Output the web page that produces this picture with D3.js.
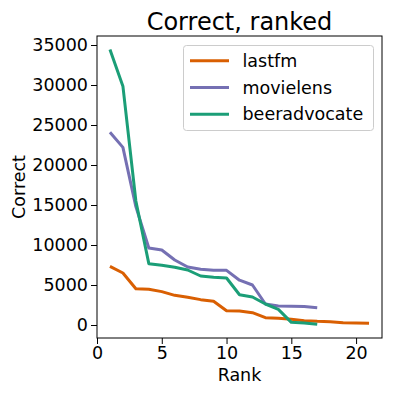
<!DOCTYPE html>
<html>
<head>
<meta charset="utf-8">
<script src="https://cdn.jsdelivr.net/npm/d3@7"></script>
<style>
  body { margin: 0; background: #fff; }
  text { font-family: "DejaVu Sans", sans-serif; fill: #000; }
</style>
</head>
<body>
<div id="chart"></div>
<script>
// values
const ranksLastfm = [1,2,3,4,5,6,7,8,9,10,11,12,13,14,15,16,17,18,19,20,21];
const lastfm = [7330,6500,4540,4460,4170,3710,3460,3170,2960,1790,1750,1540,920,830,710,540,460,420,290,250,210];
const ranksMovielens = [1,2,3,4,5,6,7,8,9,10,11,12,13,14,15,16,17];
const movielens = [24100,22200,14800,9625,9375,8125,7250,6960,6830,6830,5600,5000,2625,2375,2330,2300,2170];
const ranksBeer = [1,2,3,4,5,6,7,8,9,10,11,12,13,14,15,16,17];
const beeradvocate = [34450,29850,15500,7670,7460,7210,6875,6125,5960,5875,3780,3500,2625,1960,330,250,90];
const seriesNames = ["lastfm", "movielens", "beeradvocate"];
const colors = ["#d95f02", "#7570b3", "#1b9e77"];
const xTicks = [0, 5, 10, 15, 20];
const yTicks = [0, 5000, 10000, 15000, 20000, 25000, 30000, 35000];

const series = [
  { name: seriesNames[0], ranks: ranksLastfm, vals: lastfm },
  { name: seriesNames[1], ranks: ranksMovielens, vals: movielens },
  { name: seriesNames[2], ranks: ranksBeer, vals: beeradvocate }
];

const W = 396, H = 396;
const mLeft = 97, mRight = 382, mTop = 36, mBottom = 338;
const fs = "17.5px";

const svg = d3.select("#chart").append("svg")
  .attr("width", W)
  .attr("height", H);

const x = d3.scaleLinear().domain([0, 22]).range([mLeft, mRight]);
const y = d3.scaleLinear().domain([-1625, 36125]).range([mBottom, mTop]);

const line = d3.line()
  .x(d => x(d[0]))
  .y(d => y(d[1]));

series.forEach((s, i) => {
  svg.append("path")
    .datum(s.ranks.map((r, j) => [r, s.vals[j]]))
    .attr("fill", "none")
    .attr("stroke", colors[i])
    .attr("stroke-width", 3)
    .attr("stroke-linejoin", "round")
    .attr("d", line);
});

// axes
const xAxis = svg.append("g")
  .attr("transform", `translate(0,${mBottom})`)
  .call(d3.axisBottom(x).tickValues(xTicks).tickSize(6).tickPadding(3).tickFormat(d3.format("d")));
const yAxis = svg.append("g")
  .attr("transform", `translate(${mLeft},0)`)
  .call(d3.axisLeft(y).tickValues(yTicks).tickSize(6).tickPadding(3).tickFormat(d3.format("d")));
[xAxis, yAxis].forEach(g => {
  g.select(".domain").remove();
  g.selectAll("line").attr("stroke", "#000").attr("stroke-width", 1);
  g.selectAll("text").style("font-size", fs).attr("fill", "#000")
    .style("font-family", "DejaVu Sans, sans-serif");
});

// frame
svg.append("rect")
  .attr("x", mLeft).attr("y", mTop)
  .attr("width", mRight - mLeft).attr("height", mBottom - mTop)
  .attr("fill", "none").attr("stroke", "#000").attr("stroke-width", 1);

// labels
svg.append("text")
  .attr("x", (mLeft + mRight) / 2).attr("y", 30)
  .attr("text-anchor", "middle")
  .style("font-size", "24px")
  .text("Correct, ranked");

svg.append("text")
  .attr("x", (mLeft + mRight) / 2).attr("y", 381)
  .attr("text-anchor", "middle")
  .style("font-size", fs)
  .text("Rank");

svg.append("text")
  .attr("transform", `translate(25,${(mTop + mBottom) / 2}) rotate(-90)`)
  .attr("text-anchor", "middle")
  .style("font-size", fs)
  .text("Correct");

// legend
const lg = svg.append("g");
lg.append("rect")
  .attr("x", 183.5).attr("y", 45.5).attr("width", 190).attr("height", 85)
  .attr("rx", 3)
  .attr("fill", "#fff").attr("fill-opacity", 0.8)
  .attr("stroke", "#ccc");
seriesNames.forEach((n, i) => {
  const ly = 60.7 + i * 26.8;
  lg.append("line")
    .attr("x1", 190).attr("x2", 229)
    .attr("y1", ly).attr("y2", ly)
    .attr("stroke", colors[i]).attr("stroke-width", 3);
  lg.append("text")
    .attr("x", 242.5).attr("y", ly + 6)
    .style("font-size", fs)
    .text(n);
});
</script>
</body>
</html>
